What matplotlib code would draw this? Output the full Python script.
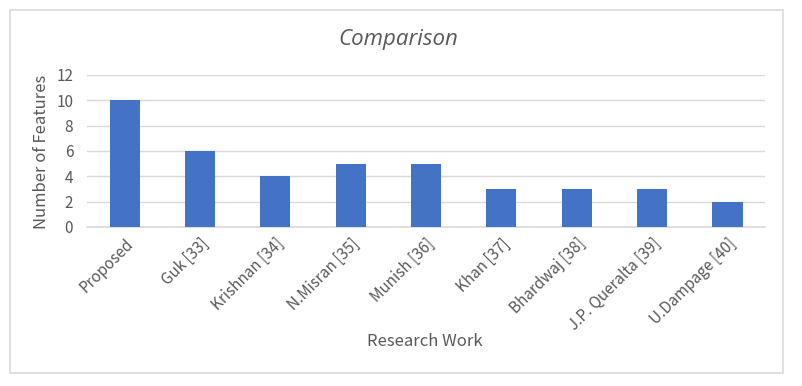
import matplotlib
matplotlib.use('Agg')
import matplotlib.pyplot as plt
from matplotlib.patches import Rectangle

# Data
works = ['Proposed', 'Guk [33]', 'Krishnan [34]', 'N.Misran [35]', 'Munish [36]',
         'Khan [37]', 'Bhardwaj [38]', 'J.P. Queralta [39]', 'U.Dampage [40]']
features = [10, 6, 4, 5, 5, 3, 3, 3, 2]
yticks = [0, 2, 4, 6, 8, 10, 12]

plt.rcParams['font.family'] = ['Noto Sans CJK SC', 'DejaVu Sans']
text_col = '#595959'
grid_col = '#D9D9D9'

fig = plt.figure(figsize=(8.02, 3.86), dpi=100)
ax = fig.add_axes([0.1085, 0.412, 0.8455, 0.394])

# outer chart border
fig.patches.append(Rectangle((10 / 802, 1 - 373 / 386), 773 / 802, 363 / 386,
                             transform=fig.transFigure, fill=False,
                             edgecolor=grid_col, lw=1.2))

x = range(len(works))
ax.bar(x, features, width=0.4, color='#4472C4', zorder=3)

ax.set_xlim(-0.5, len(works) - 0.5)
ax.set_ylim(0, 12)
ax.set_yticks(yticks)
ax.set_xticks(list(x))
ax.set_xticklabels(works, rotation=45, ha='right', rotation_mode='anchor',
                   fontsize=11, color=text_col)
ax.tick_params(axis='y', labelsize=11, labelcolor=text_col, length=0, pad=10)
ax.tick_params(axis='x', length=0, pad=6)

ax.grid(axis='y', color=grid_col, lw=1, zorder=0)
for s in ['top', 'right', 'left']:
    ax.spines[s].set_visible(False)
ax.spines['bottom'].set_color(grid_col)
ax.spines['bottom'].set_linewidth(1.2)

# axis titles and chart title
fig.text(42 / 802, 1 - 152 / 386, 'Number of Features', fontsize=12,
         color=text_col, rotation=90, ha='center', va='center')
fig.text(0.53, 1 - 342 / 386, 'Research Work', fontsize=12, color=text_col,
         ha='center', va='center')
fig.text(398 / 802, 1 - 40 / 386, 'Comparison', fontsize=16, color=text_col,
         family=['Open Sans', 'DejaVu Sans'], style='italic',
         ha='center', va='center')

fig.savefig('out.png', dpi=100)
